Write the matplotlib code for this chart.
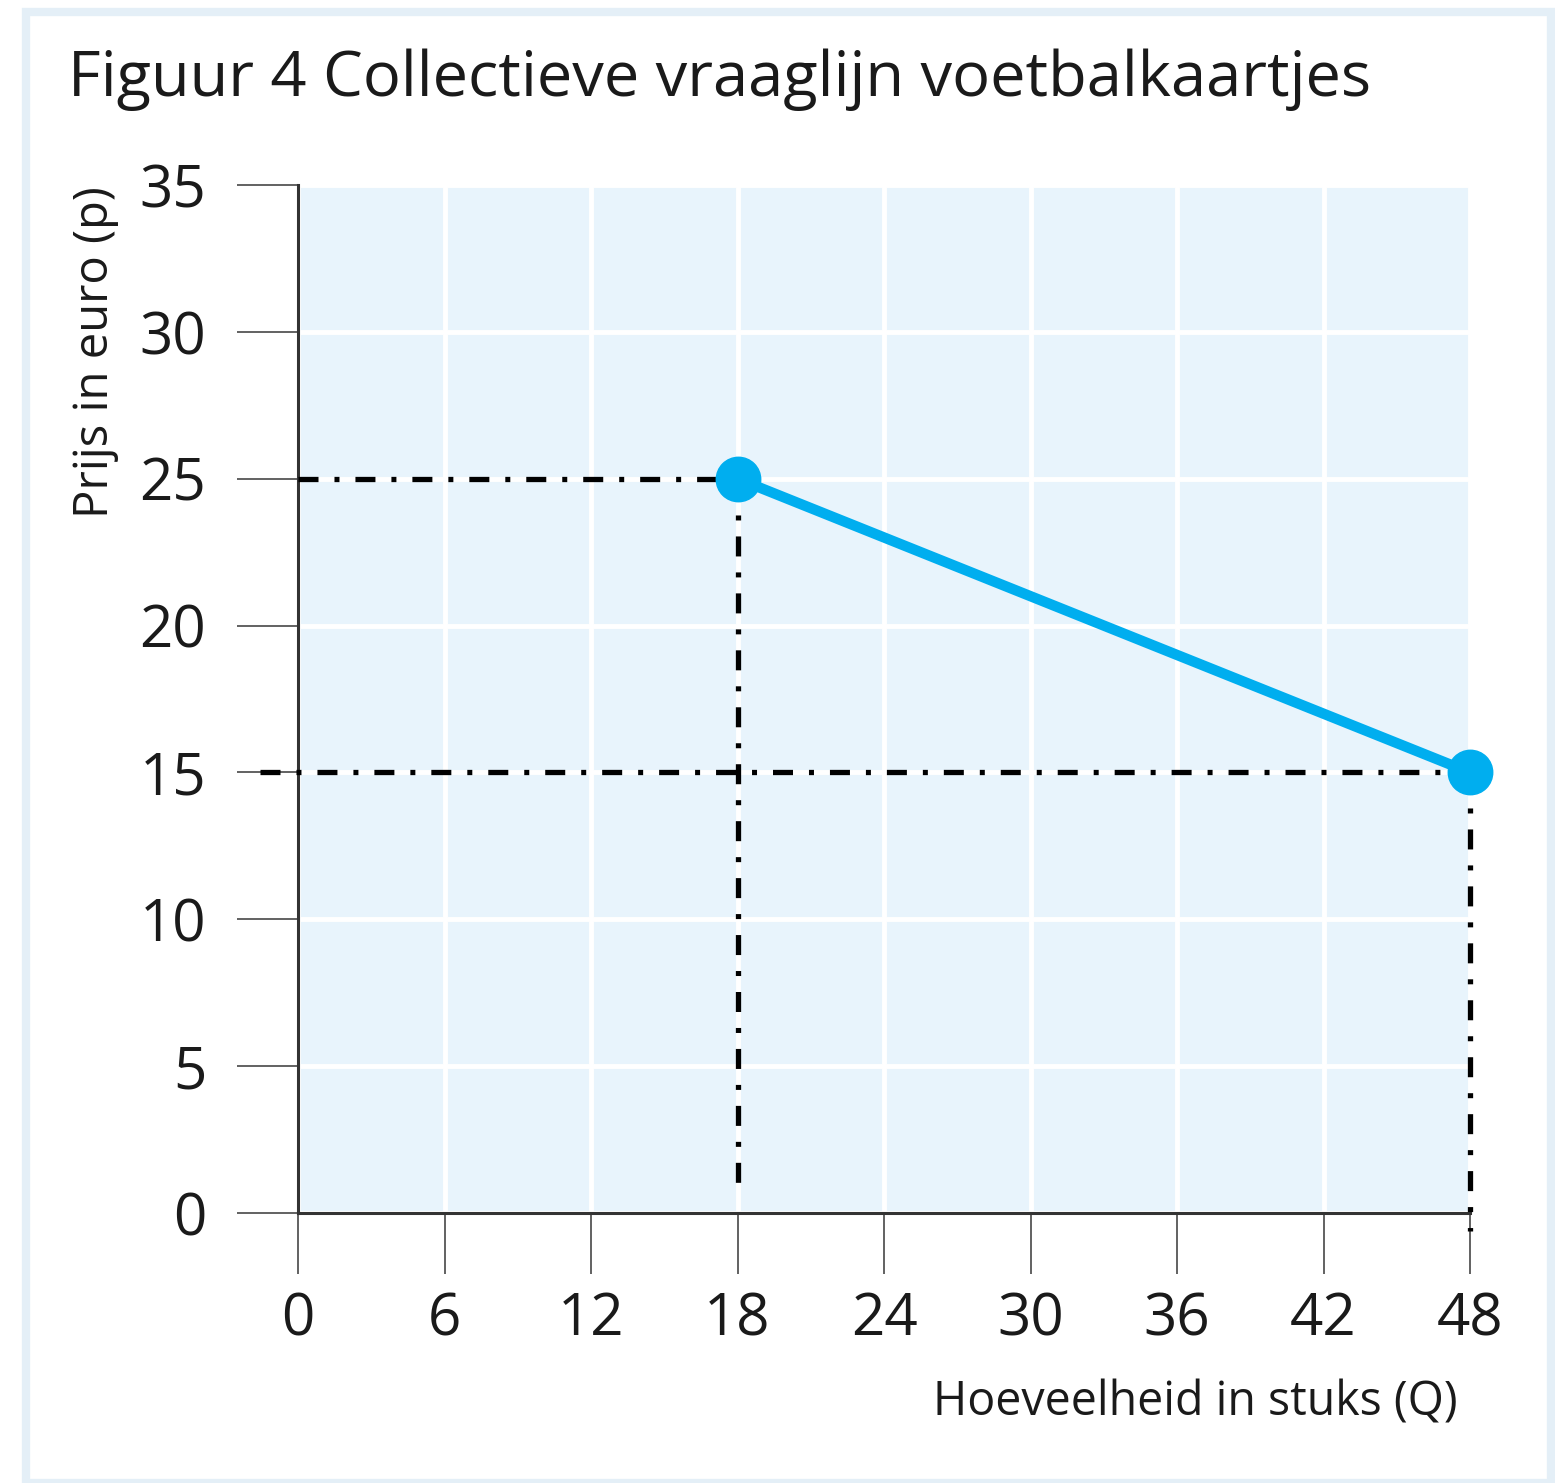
import numpy as np
import matplotlib.pyplot as plt
from matplotlib.patches import Rectangle

plt.rcParams['font.family'] = ['Open Sans', 'DejaVu Sans']
plt.rcParams['lines.scale_dashes'] = False

# data
q_points = [18, 48]
p_points = [25, 15]
x_ticks = [0, 6, 12, 18, 24, 30, 36, 42, 48]
y_ticks = [0, 5, 10, 15, 20, 25, 30, 35]

title = "Figuur 4 Collectieve vraaglijn voetbalkaartjes"
x_label = "Hoeveelheid in stuks (Q)"
y_label = "Prijs in euro (p)"

W, H = 1555, 1483
fig = plt.figure(figsize=(W / 100, H / 100), dpi=100)
fig.patch.set_facecolor('white')

# pale frame round the figure
fig.patches.append(Rectangle((26 / W, 0), (W - 30) / W, 1 - 12 / H,
                             transform=fig.transFigure, fill=False,
                             edgecolor='#e4eff7', linewidth=6))

ax = fig.add_axes([298 / W, 1 - 1213 / H, (1470 - 298) / W, (1213 - 185) / H])
ax.set_facecolor('#e8f4fc')
ax.set_xlim(0, 48)
ax.set_ylim(0, 35)

# grid
ax.set_xticks(x_ticks)
ax.set_yticks(y_ticks)
ax.grid(True, color='white', linewidth=3.5)
ax.set_axisbelow(True)

for s in ['top', 'right']:
    ax.spines[s].set_visible(False)
for s in ['left', 'bottom']:
    ax.spines[s].set_color('#333333')
    ax.spines[s].set_linewidth(2.2)

ax.tick_params(axis='both', direction='out', length=44, width=1.3,
               color='#555555', labelsize=42, labelcolor='#1a1a1a')
ax.tick_params(axis='y', pad=22)
ax.tick_params(axis='x', pad=12)

# dash-dot helper lines
dd = (0, (14.4, 11.5, 3.6, 11.5))
ax.plot([0, q_points[0]], [p_points[0], p_points[0]], color='black',
        linewidth=3.8, linestyle=dd, zorder=3)
ax.plot([q_points[0], q_points[0]], [p_points[0], 0.6], color='black',
        linewidth=3.8, linestyle=dd, zorder=3)
ax.plot([-1.55, q_points[1]], [p_points[1], p_points[1]], color='black',
        linewidth=3.8, linestyle=dd, zorder=3, clip_on=False)
ax.plot([q_points[1], q_points[1]], [p_points[1], -0.6], color='black',
        linewidth=3.8, linestyle=dd, zorder=3, clip_on=False)

# demand line
ax.plot(q_points, p_points, color='#00aeef', linewidth=7.5, marker='o',
        markersize=32, solid_capstyle='round', zorder=4, clip_on=False)

fig.text(68 / W, 1 - 80 / H, title, fontsize=45.5, color='#1a1a1a',
         ha='left', va='center')
fig.text(1458 / W, 1 - 1403 / H, x_label, fontsize=33.5, color='#1a1a1a',
         ha='right', va='center')
fig.text(95 / W, 1 - 352 / H, y_label, fontsize=34, color='#1a1a1a',
         ha='center', va='center', rotation=90)

fig.savefig('out.png', dpi=100)
